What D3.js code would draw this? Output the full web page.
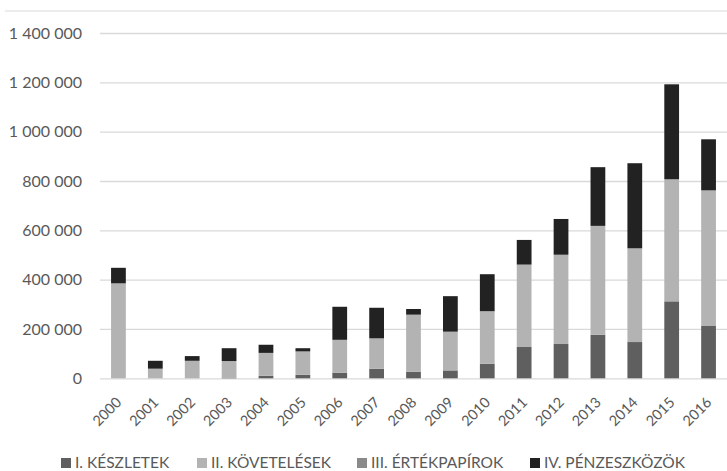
<!DOCTYPE html>
<html>
<head>
<meta charset="utf-8">
<script src="https://cdn.jsdelivr.net/npm/d3@7"></script>
<style>
  html, body { margin: 0; padding: 0; background: #fff; }
  svg { display: block; font-family: Lato, "Open Sans", sans-serif; }
</style>
</head>
<body>
<svg id="chart" width="727" height="471"></svg>
<script>
// Years on the category axis
const years = ["2000","2001","2002","2003","2004","2005","2006","2007","2008",
               "2009","2010","2011","2012","2013","2014","2015","2016"];

// Series values (stacked in this order, bottom to top)
const keszletek    = [0, 0, 0, 3000, 10000, 14000, 23000, 39000, 26000, 32000, 59000, 127000, 139000, 177000, 147000, 312000, 212000];
const kovetelesek  = [385000, 39000, 71000, 67000, 93000, 95000, 133000, 123000, 232000, 157000, 213000, 334000, 362000, 441000, 380000, 495000, 550000];
const ertekpapirok = [0, 0, 0, 0, 0, 0, 0, 0, 0, 0, 0, 0, 0, 0, 0, 0, 0];
const penzeszkozok = [63000, 32000, 19000, 52000, 33000, 13000, 134000, 124000, 23000, 144000, 150000, 100000, 145000, 238000, 345000, 385000, 207000];

const seriesNames = ["I. KÉSZLETEK", "II. KÖVETELÉSEK", "III. ÉRTÉKPAPÍROK", "IV. PÉNZESZKÖZÖK"];
const seriesColors = ["#5f5f5f", "#b3b3b3", "#8a8a8a", "#222222"];

// Y-axis tick values
const yTicks = [0, 200000, 400000, 600000, 800000, 1000000, 1200000, 1400000];

const rows = years.map((yr, i) => ({
  year: yr,
  s0: keszletek[i], s1: kovetelesek[i], s2: ertekpapirok[i], s3: penzeszkozok[i]
}));
const keys = ["s0", "s1", "s2", "s3"];

const svg = d3.select("#chart");
const plotLeft = 100, plotRight = 727, plotTop = 33, plotBottom = 378.3;

const x = d3.scaleBand().domain(years).range([plotLeft, plotRight]).paddingInner(0.6).paddingOuter(0.3);
const y = d3.scaleLinear().domain([0, 1400000]).range([plotBottom, plotTop]);

const fmt = d3.formatLocale({ decimal: ",", thousands: " ", grouping: [3], currency: ["", ""] }).format(",d");

// outer frame line at the top
svg.append("line")
  .attr("x1", 5).attr("x2", 727).attr("y1", 11).attr("y2", 11)
  .attr("stroke", "#e6e6e6").attr("stroke-width", 1.5);

// gridlines + y labels
const yAxis = d3.axisLeft(y).tickValues(yTicks).tickSize(-(plotRight - plotLeft)).tickPadding(18).tickFormat(fmt);
const gy = svg.append("g").attr("transform", `translate(${plotLeft},0)`).call(yAxis);
gy.select(".domain").remove();
gy.selectAll(".tick line").attr("stroke", "#d9d9d9").attr("stroke-width", 1.3);
gy.selectAll(".tick text").attr("fill", "#595959").attr("font-size", 16).attr("font-family", "Lato, sans-serif");

// stacked bars
const stack = d3.stack().keys(keys)(rows);
svg.append("g").selectAll("g")
  .data(stack)
  .join("g")
  .attr("fill", (d, i) => seriesColors[i])
  .selectAll("rect")
  .data(d => d)
  .join("rect")
  .attr("x", d => x(d.data.year))
  .attr("width", x.bandwidth())
  .attr("y", d => y(d[1]))
  .attr("height", d => y(d[0]) - y(d[1]));

// x labels, rotated
const xAxis = d3.axisBottom(x).tickSize(0).tickPadding(0);
const gx = svg.append("g").attr("transform", `translate(0,${plotBottom})`).call(xAxis);
gx.select(".domain").remove();
gx.selectAll(".tick text")
  .attr("fill", "#595959")
  .attr("font-size", 14.5)
  .attr("font-family", "Lato, sans-serif")
  .attr("text-anchor", "end")
  .attr("dy", null)
  .attr("y", 0)
  .attr("transform", "translate(4,25) rotate(-45)");

// legend
const legendX = [61, 197, 357, 530];
const leg = svg.append("g");
seriesNames.forEach((name, i) => {
  const g = leg.append("g").attr("transform", `translate(${legendX[i]},463)`);
  g.append("rect").attr("x", 0).attr("y", -5).attr("width", 10).attr("height", 10).attr("fill", seriesColors[i]);
  g.append("text").attr("x", 14).attr("y", 0).attr("dy", "0.35em")
    .attr("fill", "#595959").attr("font-size", 15.5).attr("font-family", "Lato, sans-serif")
    .text(name);
});
</script>
</body>
</html>
